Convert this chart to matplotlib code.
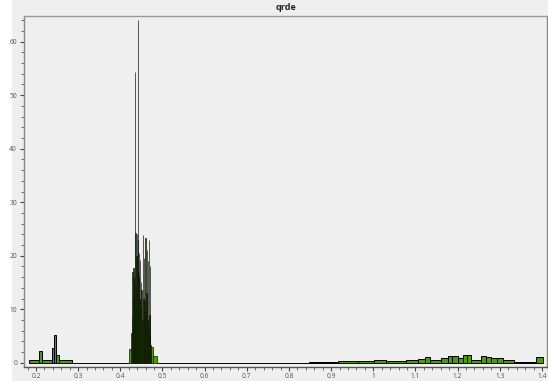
import numpy as np
import matplotlib
matplotlib.use("Agg")
import matplotlib.pyplot as plt
from matplotlib.ticker import MultipleLocator, FuncFormatter
from matplotlib.patches import Rectangle

title = "qrde"

# variable-width histogram bins (edges) and heights
left_edges = [0.184, 0.208, 0.2135, 0.238, 0.2427, 0.2467, 0.255, 0.286]
left_heights = [0.5, 2.2, 0.5, 2.8, 5.1, 1.5, 0.5]

gap1_edges = [0.286, 0.4196]
gap1_heights = [0.0]

mid_edges = [0.4196, 0.4250, 0.4280, 0.4288, 0.4296, 0.4305, 0.4315, 0.4325,
             0.4335, 0.4345, 0.4350, 0.4358, 0.4370, 0.4382, 0.4395, 0.4405,
             0.4415, 0.4420, 0.4428, 0.4440, 0.4452, 0.4465, 0.4478, 0.4490,
             0.4502, 0.4515, 0.4528, 0.4540, 0.4552, 0.4565, 0.4578, 0.4586,
             0.4594, 0.4605, 0.4616, 0.4628, 0.4640, 0.4650, 0.4658, 0.4670,
             0.4682, 0.4694, 0.4706, 0.4716, 0.4726, 0.4765, 0.4860]
mid_heights = [2.5, 5.5, 8.6, 17.0, 12.0, 17.7, 10.0, 16.0, 12.0, 54.3,
               15.0, 24.2, 14.0, 20.0, 24.0, 17.0, 64.0, 22.9, 16.0, 20.5,
               12.0, 19.2, 10.5, 15.0, 13.6, 8.0, 23.8, 12.0, 19.5, 9.5,
               11.7, 7.0, 23.3, 10.0, 13.0, 21.0, 8.0, 19.0, 6.0, 23.0,
               9.0, 18.0, 5.0, 3.3, 3.0, 1.2]

gap2_edges = [0.4860, 0.8476]
gap2_heights = [0.0]

right_edges = [0.8476, 0.9164, 0.9638, 1.0017, 1.0311, 1.0768, 1.1059, 1.1218,
               1.1353, 1.1614, 1.1770, 1.1874, 1.2007, 1.2126, 1.2220, 1.2325,
               1.2562, 1.2664, 1.2799, 1.2931, 1.3073, 1.3327, 1.3865, 1.4021]
right_heights = [0.2, 0.25, 0.3, 0.45, 0.25, 0.45, 0.7, 1.05, 0.45, 0.8,
                 1.25, 1.25, 0.85, 1.4, 1.4, 0.5, 1.2, 1.0, 0.9, 0.9,
                 0.5, 0.15, 1.0]

x_ticks = [0.2, 0.3, 0.4, 0.5, 0.6, 0.7, 0.8, 0.9, 1.0, 1.1, 1.2, 1.3, 1.4]
y_ticks = [0, 10, 20, 30, 40, 50, 60]

bg = "#efefef"
fig = plt.figure(figsize=(5.48, 3.81), dpi=100, facecolor=bg)
fig.patches.append(Rectangle((0, 0), 12 / 548, 1, transform=fig.transFigure,
                             facecolor="white", edgecolor="none", zorder=-1))
ax = fig.add_axes([24 / 548, 14.5 / 381, (547 - 24) / 548, (366.5 - 16) / 381])
ax.set_facecolor(bg)

green = "#4f9a08"
for edges, heights, lw in [(left_edges, left_heights, 0.7),
                           (gap1_edges, gap1_heights, 0.7),
                           (mid_edges, mid_heights, 0.45),
                           (gap2_edges, gap2_heights, 0.7),
                           (right_edges, right_heights, 0.7)]:
    e = np.array(edges)
    ax.bar(e[:-1], heights, width=np.diff(e), align="edge", color=green,
           edgecolor="black", linewidth=lw)

ax.set_xlim(0.1716, 1.412)
ax.set_ylim(-0.7, 64.8)
ax.set_xticks(x_ticks)
ax.set_yticks(y_ticks)
ax.xaxis.set_minor_locator(MultipleLocator(0.02))
ax.yaxis.set_minor_locator(MultipleLocator(2))
ax.xaxis.set_major_formatter(FuncFormatter(lambda v, p: f"{v:g}"))

ax.tick_params(axis="both", which="major", direction="out", length=3,
               width=0.8, color="#444444", labelsize=4.8, labelcolor="#555555",
               pad=2)
ax.tick_params(axis="both", which="minor", direction="out", length=2,
               width=0.6, color="#555555")

ax.spines["top"].set_color("#999999")
ax.spines["right"].set_color("#888888")
ax.spines["left"].set_color("#888888")
ax.spines["bottom"].set_color("#555555")
for s in ax.spines.values():
    s.set_linewidth(1.0)

fig.text((24 + 547) / 2 / 548, 1 - 7 / 381, title, ha="center", va="center",
         fontsize=6.5, fontweight="bold", family="Open Sans", color="#222222")
for lab in ax.get_xticklabels() + ax.get_yticklabels():
    lab.set_family("Open Sans")

fig.savefig("out.png", dpi=100, facecolor=bg)
